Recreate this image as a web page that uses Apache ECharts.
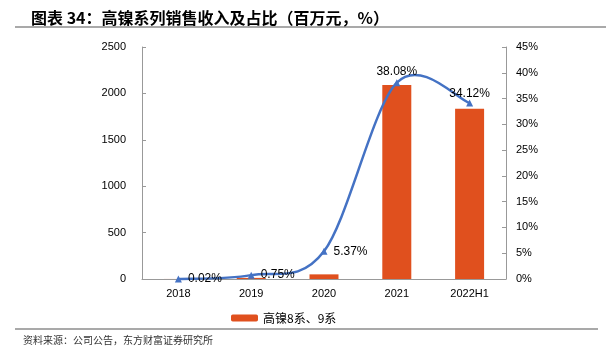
<!DOCTYPE html>
<html><head><meta charset="utf-8">
<script src="https://cdn.jsdelivr.net/npm/echarts@6/dist/echarts.min.js"></script>
<style>html,body{margin:0;padding:0;background:#fff}#c{width:612px;height:350px}</style>
</head><body><div id="c"></div>
<script>
const categories = ['2018', '2019', '2020', '2021', '2022H1'];
const revenue = [0.5, 12, 50, 2090, 1835];
const share = [0.02, 0.75, 5.37, 38.08, 34.12];
const leftTicks = {min: 0, max: 2500, interval: 500};
const rightTicks = {min: 0, max: 45, interval: 5};
const barName = '高镍8系、9系';
const lineName = '占比';
const titleText = '图表 34：高镍系列销售收入及占比（百万元，%）';
const sourceText = '资料来源：公司公告，东方财富证券研究所';

const chart = echarts.init(document.getElementById('c'), null, {renderer: 'canvas'});
const axisFont = {fontFamily: 'Liberation Sans', fontSize: 11, color: '#000'};
const labelPos = ['right', 'right', 'right', 'top', 'top'];
const labelDist = [6, 6, 6, 1, 0];

// Excel-like Catmull-Rom smoothed curve through the data points (drawn via axis coords)
function renderCurve(params, api) {
  const pts = share.map((v, i) => api.coord([i, v]));
  const n = pts.length;
  const path = [['M', pts[0][0], pts[0][1]]];
  let d = 'M' + pts[0][0] + ' ' + pts[0][1];
  for (let i = 0; i < n - 1; i++) {
    const p0 = pts[Math.max(i - 1, 0)], p1 = pts[i], p2 = pts[i + 1], p3 = pts[Math.min(i + 2, n - 1)];
    const c1 = [p1[0] + (p2[0] - p0[0]) / 6, p1[1] + (p2[1] - p0[1]) / 6];
    const c2 = [p2[0] - (p3[0] - p1[0]) / 6, p2[1] - (p3[1] - p1[1]) / 6];
    d += ' C' + c1[0] + ' ' + c1[1] + ' ' + c2[0] + ' ' + c2[1] + ' ' + p2[0] + ' ' + p2[1];
  }
  return {type: 'path', shape: {pathData: d}, style: {stroke: '#4472C4', lineWidth: 2.5, fill: 'none'}, z2: 1};
}

chart.setOption({
  animation: false,
  backgroundColor: '#fff',
  title: {
    text: titleText, left: 26, top: 5,
    textStyle: {fontFamily: 'Noto Sans CJK SC', fontSize: 16, fontWeight: 'bold', color: '#000'}
  },
  graphic: [
    {type: 'line', shape: {x1: 15, y1: 27, x2: 606, y2: 27}, style: {stroke: '#555', lineWidth: 1.2}},
    {type: 'line', shape: {x1: 15, y1: 329, x2: 598, y2: 329}, style: {stroke: '#555', lineWidth: 1.2}},
    {type: 'text', left: 23, top: 335, style: {text: sourceText, font: '10px "Noto Sans CJK SC"', fill: '#333'}}
  ],
  legend: {
    data: [barName], left: 226, top: 307, itemWidth: 27, itemHeight: 7, itemGap: 4,
    textStyle: {fontFamily: 'Noto Sans CJK SC', fontSize: 12, color: '#000'}
  },
  grid: {left: 142, right: 106, top: 47, bottom: 71, containLabel: false},
  xAxis: {
    type: 'category', data: categories,
    axisLine: {lineStyle: {color: '#999'}},
    axisTick: {inside: true, length: 4, lineStyle: {color: '#999'}},
    axisLabel: Object.assign({margin: 9}, axisFont)
  },
  yAxis: [
    {type: 'value', min: leftTicks.min, max: leftTicks.max, interval: leftTicks.interval,
     axisLine: {show: true, lineStyle: {color: '#999'}},
     axisTick: {show: true, inside: true, length: 4, lineStyle: {color: '#999'}},
     splitLine: {show: false},
     axisLabel: Object.assign({margin: 16, formatter: v => String(v)}, axisFont)},
    {type: 'value', min: rightTicks.min, max: rightTicks.max, interval: rightTicks.interval,
     axisLine: {show: true, lineStyle: {color: '#999'}},
     axisTick: {show: true, inside: true, length: 4, lineStyle: {color: '#999'}},
     splitLine: {show: false},
     axisLabel: Object.assign({margin: 10, formatter: '{value}%'}, axisFont)}
  ],
  series: [
    {name: barName, type: 'bar', data: revenue, barWidth: 29, itemStyle: {color: '#E0501E'}},
    {name: lineName + '曲线', type: 'custom', yAxisIndex: 1, data: [[0, share[0]]],
     renderItem: renderCurve, z: 3, silent: true},
    {name: lineName, type: 'line', yAxisIndex: 1, z: 4,
     data: share.map((v, i) => ({value: v, label: {position: labelPos[i], distance: labelDist[i]}})),
     symbol: 'triangle', symbolSize: 7,
     lineStyle: {width: 0, opacity: 0}, itemStyle: {color: '#4472C4'},
     label: {show: true, formatter: p => p.value.toFixed(2) + '%',
       fontFamily: 'Liberation Sans', fontSize: 12, color: '#000'}}
  ]
});
</script></body></html>
